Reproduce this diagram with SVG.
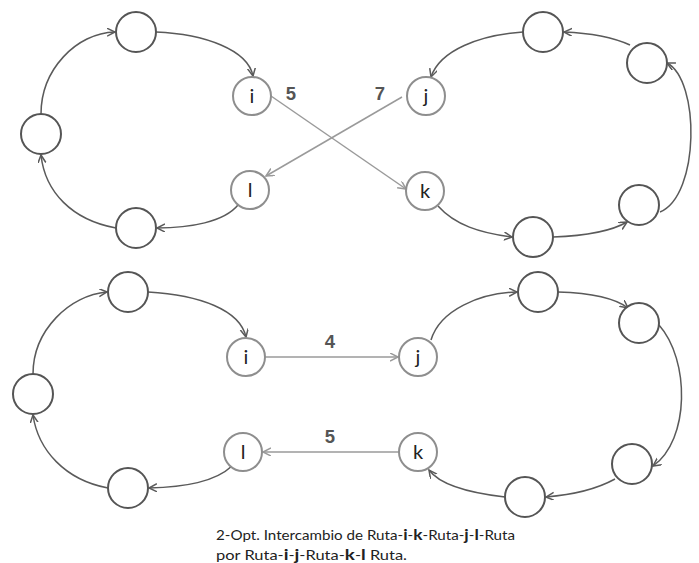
<svg xmlns="http://www.w3.org/2000/svg" width="699" height="563" viewBox="0 0 699 563">
<defs>
<style>
.n{fill:#fff;stroke:#555;stroke-width:2}
.nl{fill:#fff;stroke:#8e8e8e;stroke-width:2}
.t{font-family:Lato,"Liberation Sans",sans-serif;font-size:20px;fill:#222;text-anchor:middle}
.w{font-family:"Liberation Sans",Arial,sans-serif;font-size:18.5px;font-weight:bold;fill:#555;text-anchor:middle}
.e{fill:none;stroke:#5a5a5a;stroke-width:1.5;marker-end:url(#ad)}
.x{fill:none;stroke:#9a9a9a;stroke-width:1.5;marker-end:url(#al)}
.c{font-family:Lato,"Liberation Sans",sans-serif;font-size:13.5px;fill:#222}
.b{font-weight:bold;font-size:15.5px}
</style>
<marker id="ad" markerWidth="10" markerHeight="10" refX="8" refY="4" orient="auto" markerUnits="userSpaceOnUse">
<path d="M0,0 L8,4 L0,8" fill="none" stroke="#5a5a5a" stroke-width="1.5"/>
</marker>
<marker id="al" markerWidth="10" markerHeight="10" refX="8" refY="4" orient="auto" markerUnits="userSpaceOnUse">
<path d="M0,0 L8,4 L0,8" fill="none" stroke="#9a9a9a" stroke-width="1.5"/>
</marker>
</defs>
<rect width="699" height="563" fill="#fff"/>
<g id="connectors">
<path class="e" d="M41,114 C41,70 76,33 115,32"/>
<path class="e" d="M156,32 C205,34 248,50 253,76"/>
<path class="e" d="M238,205 C224,222 190,228 157,228"/>
<path class="e" d="M116,228 C72,220 45,192 41,155"/>
<path class="e" d="M523,32 C480,35 440,50 431,77"/>
<path class="e" d="M630,45 C610,36 590,33 564,32"/>
<path class="e" d="M660,212 C700,195 700,80 667,63"/>
<path class="e" d="M553,237 C580,236 610,232 627,222"/>
<path class="e" d="M438,206 C455,225 480,233 512,237"/>
<path class="x" d="M271,96 L406,189"/>
<path class="x" d="M402,97 L266,176"/>
<path class="e" d="M33,374 C33,330 70,295 107,292"/>
<path class="e" d="M148,292 C200,295 240,310 246,337"/>
<path class="e" d="M232,466 C215,482 185,487 149,488"/>
<path class="e" d="M108,488 C65,480 38,450 33,415"/>
<path class="e" d="M431,340 C440,310 480,293 517,292"/>
<path class="e" d="M558,292 C590,293 615,298 628,308"/>
<path class="e" d="M659,325 C690,360 690,440 653,466"/>
<path class="e" d="M615,479 C595,490 570,495 546,497"/>
<path class="e" d="M505,497 C470,493 440,485 429,470"/>
<path class="x" d="M265,357 L398,357"/>
<path class="x" d="M399,452 L263,452"/>
</g>
<g id="weights">
<text class="w" x="291" y="100">5</text>
<text class="w" x="380" y="100">7</text>
<text class="w" x="330" y="348">4</text>
<text class="w" x="330" y="443">5</text>
</g>
<g id="n_tl_top"><circle class="n" cx="136" cy="32" r="20"/></g>
<g id="n_tl_left"><circle class="n" cx="41" cy="134" r="20"/></g>
<g id="n_tl_bottom"><circle class="n" cx="136" cy="228" r="20"/></g>
<g id="n_top_i"><circle class="nl" cx="252" cy="96" r="19"/><text class="t" x="252" y="103">i</text></g>
<g id="n_top_l"><circle class="nl" cx="250" cy="190" r="19"/><text class="t" x="250" y="197">l</text></g>
<g id="n_top_j"><circle class="nl" cx="426" cy="96" r="19"/><text class="t" x="426" y="103">j</text></g>
<g id="n_top_k"><circle class="nl" cx="425" cy="191" r="19"/><text class="t" x="425" y="198">k</text></g>
<g id="n_tr_top"><circle class="n" cx="543" cy="32" r="20"/></g>
<g id="n_tr_ru"><circle class="n" cx="647" cy="63" r="20"/></g>
<g id="n_tr_rl"><circle class="n" cx="639" cy="205" r="20"/></g>
<g id="n_tr_bottom"><circle class="n" cx="533" cy="237" r="20"/></g>
<g id="n_bl_top"><circle class="n" cx="128" cy="292" r="20"/></g>
<g id="n_bl_left"><circle class="n" cx="33" cy="394" r="20"/></g>
<g id="n_bl_bottom"><circle class="n" cx="128" cy="488" r="20"/></g>
<g id="n_bot_i"><circle class="nl" cx="246" cy="357" r="19"/><text class="t" x="246" y="364">i</text></g>
<g id="n_bot_l"><circle class="nl" cx="243" cy="452" r="19"/><text class="t" x="243" y="459">l</text></g>
<g id="n_bot_j"><circle class="nl" cx="418" cy="357" r="19"/><text class="t" x="418" y="364">j</text></g>
<g id="n_bot_k"><circle class="nl" cx="418" cy="452" r="19"/><text class="t" x="418" y="459">k</text></g>
<g id="n_br_top"><circle class="n" cx="538" cy="292" r="20"/></g>
<g id="n_br_ru"><circle class="n" cx="639" cy="323" r="20"/></g>
<g id="n_br_rl"><circle class="n" cx="632" cy="464" r="20"/></g>
<g id="n_br_bottom"><circle class="n" cx="525" cy="497" r="20"/></g>
<g id="caption">
<text class="c" x="216" y="540" textLength="299" lengthAdjust="spacingAndGlyphs">2-Opt. Intercambio de Ruta-<tspan class="b">i</tspan>-<tspan class="b">k</tspan>-Ruta-<tspan class="b">j</tspan>-<tspan class="b">l</tspan>-Ruta</text>
<text class="c" x="216" y="560" textLength="191" lengthAdjust="spacingAndGlyphs">por Ruta-<tspan class="b">i</tspan>-<tspan class="b">j</tspan>-Ruta-<tspan class="b">k</tspan>-<tspan class="b">l</tspan> Ruta.</text>
</g>
</svg>
